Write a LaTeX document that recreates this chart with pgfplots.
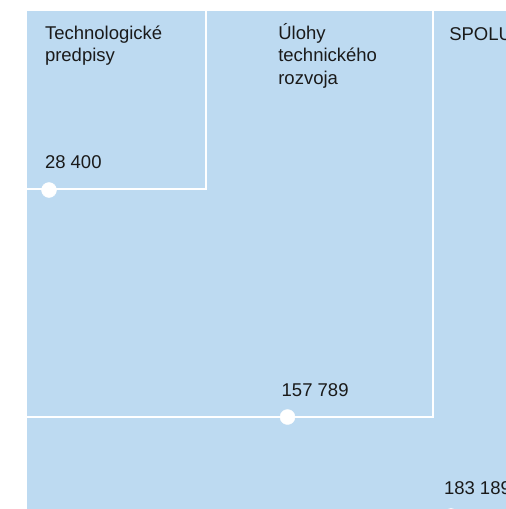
\documentclass[border=0pt]{standalone}
\usepackage{fontspec}
\setmainfont{Liberation Sans}
\usepackage{pgfplots}
\pgfplotsset{compat=1.18}
\definecolor{bg}{HTML}{BDDAF1}
\definecolor{txt}{HTML}{1A1A1A}
\tikzset{lbl/.style={inner sep=0pt,outer sep=0pt,anchor=base west,text=txt,font=\fontsize{18.5bp}{22bp}\selectfont}}
\begin{document}
\begin{tikzpicture}
\useasboundingbox (0,0) rectangle (506bp,509bp);
\fill[white] (0,0) rectangle (506bp,509bp);
\clip (0,0) rectangle (506bp,509bp);
\begin{axis}[at={(0,0)},anchor=south west,width=506bp,height=509bp,scale only axis,
  xmin=0,xmax=506,ymin=0,ymax=509,y dir=reverse,hide axis,clip=false]
\addplot[fill=bg,draw=none] coordinates {(27,11)(530,11)(530,530)(27,530)} -- cycle;
\addplot[white,line width=2bp] coordinates {(27,188.5)(205.5,188.5)(205.5,11)};
\addplot[white,line width=2bp] coordinates {(27,416.5)(433,416.5)(433,11)};
\addplot[only marks,mark=*,mark size=7.5bp,mark options={fill=white,draw=white}] coordinates {(49,190)(287.5,417)(451,516)};
\node[lbl] at (axis cs:45,39.3) {Technologické};
\node[lbl] at (axis cs:45,61.7) {predpisy};
\node[lbl] at (axis cs:45,168.3) {28 400};
\node[lbl] at (axis cs:278.3,39.3) {Úlohy};
\node[lbl] at (axis cs:278.3,62) {technického};
\node[lbl] at (axis cs:278.3,84.7) {rozvoja};
\node[lbl] at (axis cs:449.3,40.5) {SPOLU};
\node[lbl] at (axis cs:281.7,396) {157 789};
\node[lbl] at (axis cs:444,494) {183 189};
\end{axis}
\end{tikzpicture}
\end{document}
